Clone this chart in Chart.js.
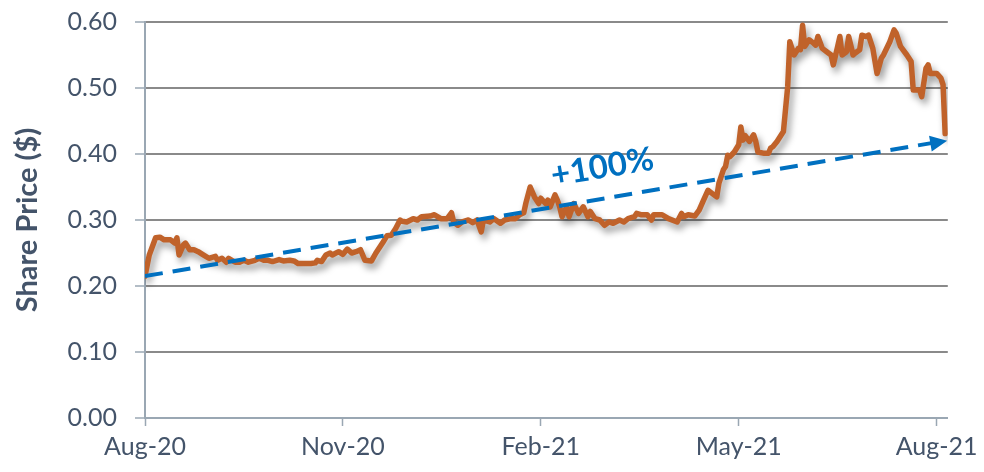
<!DOCTYPE html>
<html>
<head>
<meta charset="utf-8">
<script src="https://cdn.jsdelivr.net/npm/chart.js@4.4.1/dist/chart.umd.min.js"></script>
<style>
  html, body { margin: 0; padding: 0; background: #fff; }
  #wrap { width: 984px; height: 472px; }
</style>
</head>
<body>
<div id="wrap"><canvas id="priceChart"></canvas></div>
<script>
// share price
const dates = [
  "2020-08-01","2020-08-03","2020-08-06","2020-08-08","2020-08-10","2020-08-13","2020-08-15","2020-08-16",
  "2020-08-17","2020-08-19","2020-08-20","2020-08-22","2020-08-24","2020-08-26","2020-08-28","2020-08-31",
  "2020-09-03","2020-09-04","2020-09-06","2020-09-08","2020-09-09","2020-09-12","2020-09-14","2020-09-16",
  "2020-09-18","2020-09-21","2020-09-23","2020-09-25","2020-09-27","2020-09-29","2020-10-02","2020-10-04",
  "2020-10-07","2020-10-09","2020-10-11","2020-10-14","2020-10-17","2020-10-19","2020-10-20","2020-10-22",
  "2020-10-24","2020-10-26","2020-10-27","2020-10-30","2020-11-01","2020-11-03","2020-11-05","2020-11-07",
  "2020-11-09","2020-11-10","2020-11-11","2020-11-14","2020-11-16","2020-11-19","2020-11-21","2020-11-23",
  "2020-11-25","2020-11-27","2020-11-28","2020-11-30","2020-12-03","2020-12-05","2020-12-07","2020-12-11",
  "2020-12-13","2020-12-16","2020-12-19","2020-12-21","2020-12-22","2020-12-24","2020-12-26","2020-12-29",
  "2020-12-31","2021-01-02","2021-01-04","2021-01-05","2021-01-08","2021-01-10","2021-01-13","2021-01-15",
  "2021-01-18","2021-01-20","2021-01-22","2021-01-24","2021-01-25","2021-01-27","2021-01-29","2021-01-31",
  "2021-02-01","2021-02-03","2021-02-04","2021-02-05","2021-02-07","2021-02-08","2021-02-09","2021-02-10",
  "2021-02-12","2021-02-13","2021-02-15","2021-02-17","2021-02-19","2021-02-21","2021-02-22","2021-02-24",
  "2021-02-26","2021-02-28","2021-03-02","2021-03-04","2021-03-07","2021-03-09","2021-03-11","2021-03-14",
  "2021-03-15","2021-03-17","2021-03-20","2021-03-22","2021-03-23","2021-03-27","2021-03-30","2021-04-03",
  "2021-04-05","2021-04-06","2021-04-08","2021-04-11","2021-04-13","2021-04-15","2021-04-17","2021-04-19",
  "2021-04-21","2021-04-22","2021-04-24","2021-04-25","2021-04-26","2021-04-27","2021-04-29","2021-05-01",
  "2021-05-02","2021-05-03","2021-05-04","2021-05-06","2021-05-08","2021-05-09","2021-05-10","2021-05-13",
  "2021-05-15","2021-05-16","2021-05-17","2021-05-19","2021-05-22","2021-05-24","2021-05-25","2021-05-27",
  "2021-05-29","2021-05-30","2021-05-31","2021-06-01","2021-06-03","2021-06-05","2021-06-06","2021-06-07",
  "2021-06-09","2021-06-11","2021-06-13","2021-06-14","2021-06-16","2021-06-17","2021-06-18","2021-06-20",
  "2021-06-21","2021-06-23","2021-06-24","2021-06-26","2021-06-27","2021-06-29","2021-06-30","2021-07-02",
  "2021-07-04","2021-07-06","2021-07-07","2021-07-10","2021-07-12","2021-07-13","2021-07-15","2021-07-18",
  "2021-07-20","2021-07-21","2021-07-24","2021-07-25","2021-07-27","2021-07-28","2021-07-29","2021-08-01",
  "2021-08-03","2021-08-04","2021-08-05"
];
const prices = [
  0.215,0.247,0.273,0.274,0.270,0.270,0.265,0.273,
  0.247,0.262,0.265,0.255,0.255,0.252,0.248,0.242,
  0.245,0.239,0.242,0.236,0.242,0.236,0.236,0.239,
  0.236,0.239,0.242,0.239,0.239,0.237,0.240,0.238,
  0.239,0.238,0.234,0.234,0.234,0.235,0.239,0.237,
  0.247,0.250,0.247,0.252,0.248,0.256,0.250,0.252,
  0.255,0.247,0.239,0.238,0.250,0.265,0.276,0.277,
  0.287,0.300,0.298,0.297,0.302,0.300,0.305,0.306,
  0.308,0.302,0.302,0.311,0.297,0.292,0.297,0.300,
  0.296,0.300,0.282,0.300,0.297,0.302,0.295,0.300,
  0.302,0.302,0.308,0.311,0.326,0.350,0.335,0.325,
  0.333,0.325,0.330,0.320,0.338,0.330,0.320,0.305,
  0.320,0.305,0.325,0.310,0.320,0.305,0.313,0.302,
  0.300,0.292,0.297,0.295,0.300,0.297,0.302,0.305,
  0.310,0.308,0.308,0.300,0.308,0.308,0.302,0.297,
  0.310,0.305,0.308,0.306,0.315,0.330,0.345,0.340,
  0.335,0.356,0.376,0.381,0.398,0.396,0.403,0.414,
  0.441,0.421,0.428,0.419,0.429,0.419,0.403,0.401,
  0.401,0.409,0.411,0.419,0.434,0.502,0.570,0.550,
  0.560,0.558,0.595,0.563,0.573,0.568,0.565,0.578,
  0.560,0.555,0.550,0.535,0.563,0.578,0.550,0.555,
  0.578,0.550,0.553,0.558,0.580,0.578,0.580,0.560,
  0.522,0.545,0.550,0.570,0.588,0.583,0.563,0.550,
  0.540,0.497,0.497,0.487,0.530,0.535,0.522,0.522,
  0.515,0.505,0.431
];

// dashed trend arrow
const trendDates = ["2020-08-01", "2021-08-05"];
const trendValues = [0.215, 0.42];
const trendLabel = "+100%";

const tickLabels = ["Aug-20", "Nov-20", "Feb-21", "May-21", "Aug-21"];
const yTitle = "Share Price ($)";

const monthNames = ["Jan","Feb","Mar","Apr","May","Jun","Jul","Aug","Sep","Oct","Nov","Dec"];

// months since 1 Aug 2020
function toMonths(s) {
  const [y, m, d] = s.split("-").map(Number);
  const dim = new Date(y, m, 0).getDate();
  return (y - 2020) * 12 + (m - 8) + (d - 1) / dim;
}
function labelToMonths(l) {
  const m = monthNames.indexOf(l.slice(0, 3)) + 1;
  return toMonths("20" + l.slice(4) + "-" + String(m).padStart(2, "0") + "-01");
}

const tickMonths = tickLabels.map(labelToMonths);
const priceData = dates.map((d, i) => ({ x: toMonths(d), y: prices[i] }));
const trendData = trendDates.map((d, i) => ({ x: toMonths(d), y: trendValues[i] }));
const xMax = priceData[priceData.length - 1].x + 0.04;

const textColor = "#44546A";
const axisColor = "#9aa7b3";
const blue = "#0070C0";

const decor = {
  id: "decor",
  beforeDatasetDraw(chart, args) {
    if (args.index !== 1) return;
    const ctx = chart.ctx;
    ctx.save();
    ctx.shadowColor = "rgba(0,0,0,0.4)";
    ctx.shadowBlur = 7;
    ctx.shadowOffsetX = 3;
    ctx.shadowOffsetY = 5;
  },
  afterDatasetDraw(chart, args) {
    if (args.index === 1) chart.ctx.restore();
  },
  afterDatasetsDraw(chart) {
    const ctx = chart.ctx;
    const xs = chart.scales.x, ys = chart.scales.y;
    const x0 = xs.getPixelForValue(trendData[0].x), y0 = ys.getPixelForValue(trendData[0].y);
    const x1 = xs.getPixelForValue(trendData[1].x), y1 = ys.getPixelForValue(trendData[1].y);
    const ang = Math.atan2(y1 - y0, x1 - x0);

    // arrow head
    ctx.save();
    ctx.translate(x1 + 2, y1);
    ctx.rotate(ang);
    ctx.fillStyle = blue;
    ctx.beginPath();
    ctx.moveTo(0, 0);
    ctx.lineTo(-17, -8);
    ctx.lineTo(-17, 8);
    ctx.closePath();
    ctx.fill();
    ctx.restore();

    // label above the line
    const t = 0.578;
    const lx = x0 + (x1 - x0) * t, ly = y0 + (y1 - y0) * t;
    ctx.save();
    ctx.translate(lx + Math.sin(ang) * 31, ly - Math.cos(ang) * 31);
    ctx.rotate(ang);
    ctx.fillStyle = blue;
    ctx.font = "bold 33px Lato";
    ctx.textAlign = "center";
    ctx.textBaseline = "middle";
    ctx.fillText(trendLabel, 0, 0);
    ctx.restore();
  }
};

const ctx = document.getElementById("priceChart").getContext("2d");

const priceChart = new Chart(ctx, {
  type: "line",
  data: {
    datasets: [
      {
        label: "Trend",
        data: trendData,
        borderColor: blue,
        borderWidth: 4,
        borderDash: [18, 10],
        pointRadius: 0,
        tension: 0,
      },
      {
        label: "Share Price",
        data: priceData,
        borderColor: "#C0622A",
        borderWidth: 5.5,
        borderJoinStyle: "round",
        borderCapStyle: "round",
        pointRadius: 0,
        tension: 0,
      },
    ],
  },
  options: {
    responsive: true,
    maintainAspectRatio: false,
    animation: false,
    layout: { padding: { top: 22, right: 31, left: 10, bottom: 0 } },
    plugins: {
      legend: { display: false },
      tooltip: { enabled: false },
    },
    scales: {
      x: {
        type: "linear",
        min: 0,
        max: xMax,
        afterBuildTicks: (scale) => {
          scale.ticks = tickMonths.map((v) => ({ value: v }));
        },
        afterFit: (scale) => { scale.height = 54; },
        grid: {
          drawOnChartArea: false,
          drawTicks: true,
          tickLength: 8,
          tickColor: axisColor,
          tickWidth: 1.5,
        },
        border: { color: axisColor, width: 2 },
        ticks: {
          color: textColor,
          font: { family: "Lato", size: 25 },
          padding: 6,
          maxRotation: 0,
          autoSkip: false,
          callback: (v) => tickLabels[tickMonths.indexOf(v)],
        },
      },
      y: {
        min: 0,
        max: 0.6,
        afterFit: (scale) => {
          scale.width = 135;
          scale.paddingTop = 0;
          scale.paddingBottom = 0;
        },
        ticks: {
          stepSize: 0.1,
          color: textColor,
          font: { family: "Lato", size: 25 },
          padding: 18,
          callback: (v) => v.toFixed(2),
        },
        grid: {
          color: "#8a8a8a",
          lineWidth: 2,
          tickLength: 10,
          tickColor: axisColor,
          tickWidth: 1.5,
        },
        border: { color: axisColor, width: 2 },
        title: {
          display: true,
          text: yTitle,
          color: textColor,
          font: { family: "Lato", size: 29, weight: "bold" },
          padding: { top: 0, bottom: 0 },
        },
      },
    },
  },
  plugins: [decor],
});
</script>
</body>
</html>
